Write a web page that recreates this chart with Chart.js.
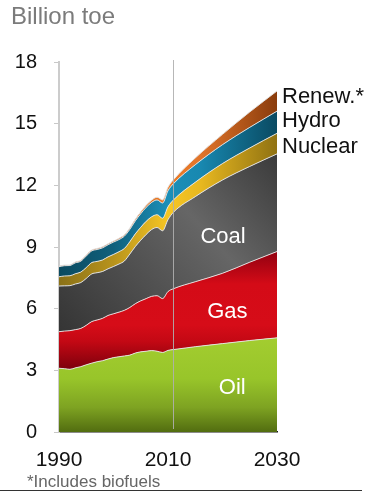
<!DOCTYPE html>
<html>
<head>
<meta charset="utf-8">
<script src="https://cdn.jsdelivr.net/npm/chart.js@4"></script>
<style>
html,body{margin:0;padding:0;background:#fff;}
#wrap{position:relative;width:378px;height:492px;}
canvas{display:block;}
</style>
</head>
<body>
<div id="wrap"><canvas id="c" width="378" height="492"></canvas></div>
<script>
// ---- data (Billion toe) ----
const years   = [1990,1991,1992,1993,1994,1995,1996,1997,1998,1999,2000,2001,2002,2003,2004,2005,2006,2007,2008,2009,2010,2011,2015,2020,2025,2030];
const oil     = [3.10,3.08,3.05,3.12,3.18,3.27,3.35,3.42,3.47,3.55,3.62,3.66,3.70,3.74,3.84,3.90,3.93,3.96,3.93,3.87,3.97,4.01,4.15,4.30,4.45,4.58];
const gas     = [1.78,1.83,1.88,1.86,1.86,1.92,2.02,2.03,2.06,2.12,2.13,2.17,2.22,2.32,2.40,2.48,2.56,2.64,2.70,2.62,2.86,2.96,3.16,3.42,3.81,4.20];
const coal    = [2.22,2.20,2.19,2.22,2.23,2.28,2.32,2.30,2.28,2.27,2.30,2.34,2.40,2.60,2.78,2.95,3.12,3.25,3.32,3.30,3.50,3.72,4.14,4.54,4.66,4.75];
const nuclear = [0.45,0.48,0.48,0.50,0.51,0.53,0.55,0.55,0.56,0.58,0.59,0.60,0.61,0.60,0.62,0.63,0.64,0.62,0.62,0.61,0.63,0.60,0.70,0.80,0.90,1.00];
const hydro   = [0.49,0.50,0.50,0.53,0.53,0.56,0.57,0.58,0.59,0.59,0.60,0.59,0.60,0.60,0.63,0.66,0.68,0.70,0.72,0.74,0.78,0.79,0.85,0.92,1.00,1.08];
const renew   = [0.03,0.03,0.03,0.04,0.04,0.04,0.04,0.05,0.05,0.05,0.05,0.06,0.06,0.07,0.08,0.09,0.10,0.11,0.13,0.15,0.17,0.19,0.33,0.50,0.75,0.98];
const xTicks  = [1990, 2010, 2030];
const yTicks  = [0, 3, 6, 9, 12, 15, 18];
const historyEnd = 2011;
const seriesNames = ['Oil','Gas','Coal','Nuclear','Hydro','Renew.*'];

// ---- label annotations (data coordinates) ----
const innerLabels = [
  {text:'Coal', x:2020.1, y:9.5},
  {text:'Gas',  x:2020.9, y:5.85},
  {text:'Oil',  x:2021.8, y:2.15}
];
const sideLabels = [
  {text:'Renew.*', y:16.3},
  {text:'Hydro',   y:15.12},
  {text:'Nuclear', y:13.85}
];

const FONT = '"Liberation Sans", Arial, Helvetica, sans-serif';

function vGrad(chart, stops){ // stops: [value, color]
  const {ctx, chartArea, scales} = chart;
  if(!chartArea) return null;
  const y = scales.y;
  const top = y.getPixelForValue(18), bot = y.getPixelForValue(0);
  const g = ctx.createLinearGradient(0, bot, 0, top);
  stops.forEach(([v,c])=>g.addColorStop(Math.min(1,Math.max(0,v/18)), c));
  return g;
}
function hGrad(chart, stops){ // stops: [year, color]
  const {ctx, chartArea, scales} = chart;
  if(!chartArea) return null;
  const x = scales.x;
  const l = x.getPixelForValue(1990), r = x.getPixelForValue(2030);
  const g = ctx.createLinearGradient(l, 0, r, 0);
  stops.forEach(([v,c])=>g.addColorStop((v-1990)/40, c));
  return g;
}
function dGrad(chart, p0, p1, stops){
  const {ctx, chartArea, scales} = chart;
  if(!chartArea) return null;
  const g = ctx.createLinearGradient(scales.x.getPixelForValue(p0[0]), scales.y.getPixelForValue(p0[1]),
                                     scales.x.getPixelForValue(p1[0]), scales.y.getPixelForValue(p1[1]));
  stops.forEach(([t,c])=>g.addColorStop(t,c));
  return g;
}

const fills = [
  c => vGrad(c.chart, [[0,'#526d10'],[1.2,'#7ea322'],[2.6,'#98c52a'],[4.6,'#a3cd30']]),
  c => vGrad(c.chart, [[3.0,'#7a000c'],[4.4,'#c30814'],[5.2,'#d60c18'],[7.2,'#d40b17'],[8.9,'#8c0010']]),
  c => dGrad(c.chart, [1990,4.5],[2030,14], [[0,'#333333'],[0.62,'#666666'],[1,'#383838']]),
  c => hGrad(c.chart, [[1990,'#8a7118'],[2000,'#b8931c'],[2010,'#f6c624'],[2016,'#e8b820'],[2030,'#907212']]),
  c => hGrad(c.chart, [[1990,'#0b4a60'],[2000,'#10607c'],[2010,'#1c8fb8'],[2016,'#1888b0'],[2030,'#0a4a62']]),
  c => hGrad(c.chart, [[1990,'#a84c12'],[2010,'#ef7c26'],[2016,'#e0742a'],[2030,'#8a3c0c']])
];
const seriesVals = [oil, gas, coal, nuclear, hydro, renew];

const datasets = seriesVals.map((vals,i)=>({
  label: seriesNames[i],
  data: years.map((yr,k)=>({x:yr, y:vals[k]})),
  backgroundColor: fills[i],
  borderColor: 'rgba(228,228,228,0.95)',
  borderWidth: 1,
  pointRadius: 0,
  fill: i===0 ? 'origin' : '-1',
  cubicInterpolationMode: 'monotone'
}));

const decor = {
  id:'decor',
  afterDatasetsDraw(chart){
    const {ctx, scales:{x,y}} = chart;
    ctx.save();
    // history/projection divider
    const vx = Math.round(x.getPixelForValue(historyEnd))+0.5;
    ctx.strokeStyle = 'rgba(175,175,175,0.9)';
    ctx.lineWidth = 1;
    ctx.beginPath(); ctx.moveTo(vx, y.getPixelForValue(18)-2); ctx.lineTo(vx, y.getPixelForValue(0)-3); ctx.stroke();
    // inner labels
    ctx.fillStyle = '#ffffff';
    ctx.font = '22px ' + FONT;
    ctx.textAlign = 'center'; ctx.textBaseline = 'middle';
    innerLabels.forEach(l=>ctx.fillText(l.text, x.getPixelForValue(l.x), y.getPixelForValue(l.y)));
    // side labels
    ctx.fillStyle = '#111111';
    ctx.textAlign = 'left';
    sideLabels.forEach(l=>ctx.fillText(l.text, x.getPixelForValue(2030)+5, y.getPixelForValue(l.y)));
    ctx.restore();
  },
  afterDraw(chart){
    const {ctx} = chart;
    ctx.save();
    ctx.fillStyle = '#7b7b7b';
    ctx.font = '24px ' + FONT;
    ctx.textAlign = 'left'; ctx.textBaseline = 'alphabetic';
    ctx.fillText('Billion toe', 11, 24);
    ctx.fillStyle = '#666666';
    ctx.font = '17px ' + FONT;
    ctx.fillText('*Includes biofuels', 27, 487);
    ctx.strokeStyle = '#333';
    ctx.lineWidth = 1;
    ctx.beginPath(); ctx.moveTo(0, 490.5); ctx.lineTo(362, 490.5); ctx.stroke();
    ctx.restore();
  }
};

new Chart(document.getElementById('c'), {
  type: 'line',
  data: { datasets },
  plugins: [decor],
  options: {
    responsive: false,
    animation: false,
    devicePixelRatio: 1,
    layout: { padding: { left: 0, top: 62, right: 101, bottom: 0 } },
    plugins: { legend: { display: false }, tooltip: { enabled: false } },
    elements: { line: { tension: 0.3 } },
    scales: {
      x: {
        type: 'linear', min: 1990, max: 2030,
        afterBuildTicks: s => { s.ticks = xTicks.map(v=>({value:v})); },
        afterFit: s => { s.height = 60; },
        grid: { display: false, drawTicks: false, tickLength: 0 },
        border: { display: true, color: '#1a1a1a', width: 1.5 },
        ticks: { color: '#111', font: { family: FONT, size: 21 }, padding: 16, maxRotation: 0, autoSkip: false, callback: v => String(v) }
      },
      y: {
        type: 'linear', min: 0, max: 18, stacked: true,
        afterBuildTicks: s => { s.ticks = yTicks.map(v=>({value:v})); },
        afterFit: s => { s.width = 59; },
        grid: { display: true, drawOnChartArea: false, drawTicks: true, tickLength: 5, color: '#c8c8c8', lineWidth: 1 },
        border: { display: true, color: '#cccccc', width: 2 },
        ticks: { color: '#111', font: { family: FONT, size: 20 }, padding: 17, autoSkip: false }
      }
    }
  }
});
</script>
</body>
</html>
